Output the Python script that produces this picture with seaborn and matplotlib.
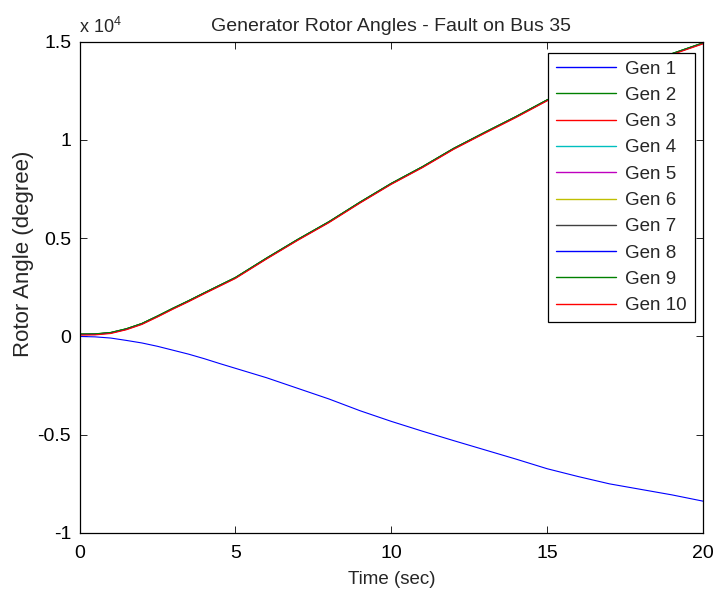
import numpy as np
import pandas as pd
import seaborn as sns
import matplotlib
matplotlib.use("Agg")
import matplotlib.pyplot as plt
from matplotlib.lines import Line2D
from matplotlib.ticker import FuncFormatter

# Simulation time (s)
time_s = [0, 0.5, 1, 1.5, 2, 2.5, 3, 3.5, 4, 4.5, 5, 6, 7, 8, 9, 10,
          11, 12, 13, 14, 15, 16, 17, 18, 19, 20]

# Gen 1 rotor angle (degree)
gen1_angle = [0, -20, -80, -200, -330, -500, -700, -900, -1130, -1380, -1620,
              -2100, -2640, -3180, -3780, -4320, -4820, -5300, -5770, -6240,
              -6730, -7130, -7500, -7780, -8060, -8380]

# Coherent group (Gens 2-10) rotor angle (degree)
group_angle = [80, 90, 160, 350, 620, 1000, 1400, 1780, 2180, 2570, 2960,
               3950, 4900, 5800, 6800, 7750, 8600, 9530, 10350, 11150, 12000,
               12700, 13300, 13850, 14350, 14900]

# Small deviations of Gens 2-10 from the group trajectory (degree)
group_spread = [40, 10, 30, 25, 35, 30, 20, 45, -10]

gen_names = [f"Gen {i}" for i in range(1, 11)]
gen_colors = [(0, 0, 1), (0, 0.5, 0), (1, 0, 0), (0, 0.75, 0.75), (0.75, 0, 0.75),
              (0.75, 0.75, 0), (0.25, 0.25, 0.25), (0, 0, 1), (0, 0.5, 0), (1, 0, 0)]

y_ticks = [-10000, -5000, 0, 5000, 10000, 15000]
x_ticks = [0, 5, 10, 15, 20]

rows = []
for t, a in zip(time_s, gen1_angle):
    rows.append((t, a, gen_names[0]))
for name, dv in zip(gen_names[1:], group_spread):
    for t, a in zip(time_s, group_angle):
        rows.append((t, a + dv, name))
df = pd.DataFrame(rows, columns=["Time", "Angle", "Generator"])

sns.set_style("ticks")
plt.rcParams["font.family"] = ["Liberation Sans", "DejaVu Sans"]
plt.rcParams["mathtext.fontset"] = "custom"
plt.rcParams["mathtext.rm"] = "Liberation Sans"
plt.rcParams["mathtext.default"] = "regular"

fig = plt.figure(figsize=(7.17, 5.89), dpi=100)
ax = fig.add_axes([0.1109, 0.0951, 0.9805 - 0.1109, 0.9292 - 0.0951])

sns.lineplot(data=df, x="Time", y="Angle", hue="Generator", hue_order=gen_names,
             palette=gen_colors, estimator=None, sort=False, linewidth=0.8,
             legend=False, ax=ax)

ax.set_xlim(0, 20)
ax.set_ylim(-10000, 15000)
ax.xaxis.set_major_locator(plt.FixedLocator(x_ticks))
ax.yaxis.set_major_locator(plt.FixedLocator(y_ticks))
ax.yaxis.set_major_formatter(FuncFormatter(lambda v, p: f"{v / 1e4:g}"))
ax.xaxis.set_major_formatter(FuncFormatter(lambda v, p: f"{v:g}"))
ax.tick_params(direction="in", top=True, right=True, length=5, width=0.6,
               labelsize=14, colors="black")
ax.tick_params(axis="y", pad=6)
ax.tick_params(axis="x", pad=9)
for sp in ax.spines.values():
    sp.set_visible(True)
    sp.set_color("black")
    sp.set_linewidth(0.9)

ax.set_title("Generator Rotor Angles - Fault on Bus 35", fontsize=14, pad=8)
ax.set_xlabel("Time (sec)", fontsize=13.5, labelpad=6)
ax.set_ylabel("Rotor Angle (degree)", fontsize=16)
ax.yaxis.set_label_coords(-0.073, 0.568)

fig.text(79 / 717, 1 - 33 / 589, r"x 10$^{4}$", fontsize=13, ha="left", va="baseline")

handles = [Line2D([0], [0], color=c, linewidth=1.0) for c in gen_colors]
leg = ax.legend(handles, gen_names, loc="upper right", bbox_to_anchor=(0.987, 0.978),
                borderaxespad=0, fontsize=13.5, frameon=True, fancybox=False,
                framealpha=1, edgecolor="black", handlelength=3.2,
                handletextpad=0.5, labelspacing=0.49, borderpad=0.42)
leg.get_frame().set_linewidth(0.9)

fig.savefig("out.png", dpi=100)
